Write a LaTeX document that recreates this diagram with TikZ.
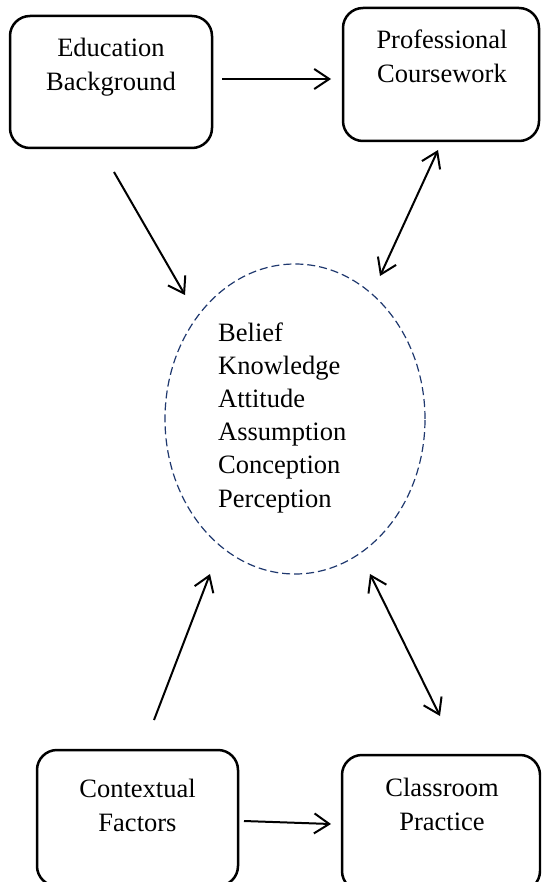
\documentclass[tikz,border=0pt]{standalone}
\usepackage{fontspec}
\setmainfont{Liberation Serif}
\usetikzlibrary{arrows.meta,shapes.geometric}
\definecolor{navy}{RGB}{31,56,110}
\tikzset{
  box/.style={draw, line width=2.5pt, rounded corners=20pt, inner sep=0pt},
  txt/.style={font=\fontsize{26.5}{34}\selectfont, align=center, inner sep=0pt},
  inner/.style={font=\fontsize{26.5}{33.2}\selectfont, align=left, inner sep=0pt},
  conn/.style={line width=2pt, -{Straight Barb[length=15pt,width=20pt]}},
  bconn/.style={line width=2pt, {Straight Barb[length=15pt,width=20pt]}-{Straight Barb[length=15pt,width=20pt]}},
  oval/.style={ellipse, draw=navy, line width=1.2pt, dash pattern=on 8pt off 4pt, inner sep=0pt}
}
\begin{document}
\begin{tikzpicture}[x=1pt,y=-1pt]
\useasboundingbox (0,0) rectangle (541,882);
\clip (0,0) rectangle (541,882);
% boxes
\node[box, minimum width=202pt, minimum height=132pt] (edu) at (111,82) {};
\node[box, minimum width=196pt, minimum height=133pt] (prof) at (441,74.5) {};
\node[box, minimum width=201pt, minimum height=136pt] (ctx) at (137.5,818) {};
\node[box, minimum width=198pt, minimum height=136pt] (cls) at (441,823) {};
% texts (base anchor = last line's baseline)
\node[txt, anchor=base] (edut) at (111,91) {Education\\Background};
\node[txt, anchor=base] (proft) at (442,82.5) {Professional\\Coursework};
\node[txt, anchor=base] (ctxt) at (137.5,831) {Contextual\\Factors};
\node[txt, anchor=base] (clst) at (442,830) {Classroom\\Practice};
% ellipse
\node[oval, minimum width=260pt, minimum height=310pt] (bel) at (295,419) {};
\node[inner, anchor=base west] (belt) at (218,507) {Belief\\Knowledge\\Attitude\\Assumption\\Conception\\Perception};
% connector end points
\coordinate (a1s) at (222,79);  \coordinate (a1e) at (331,79);
\coordinate (a2s) at (114,172); \coordinate (a2e) at (185,295);
\coordinate (a3s) at (380,276); \coordinate (a3e) at (438,150);
\coordinate (a4s) at (154,720); \coordinate (a4e) at (210,574);
\coordinate (a5s) at (370,574); \coordinate (a5e) at (440,716);
\coordinate (a6s) at (244,821); \coordinate (a6e) at (331,824);
\draw[conn] (a1s) -- (a1e);
\draw[conn] (a2s) -- (a2e);
\draw[bconn] (a3s) -- (a3e);
\draw[conn] (a4s) -- (a4e);
\draw[bconn] (a5s) -- (a5e);
\draw[conn] (a6s) -- (a6e);
\end{tikzpicture}
\end{document}
